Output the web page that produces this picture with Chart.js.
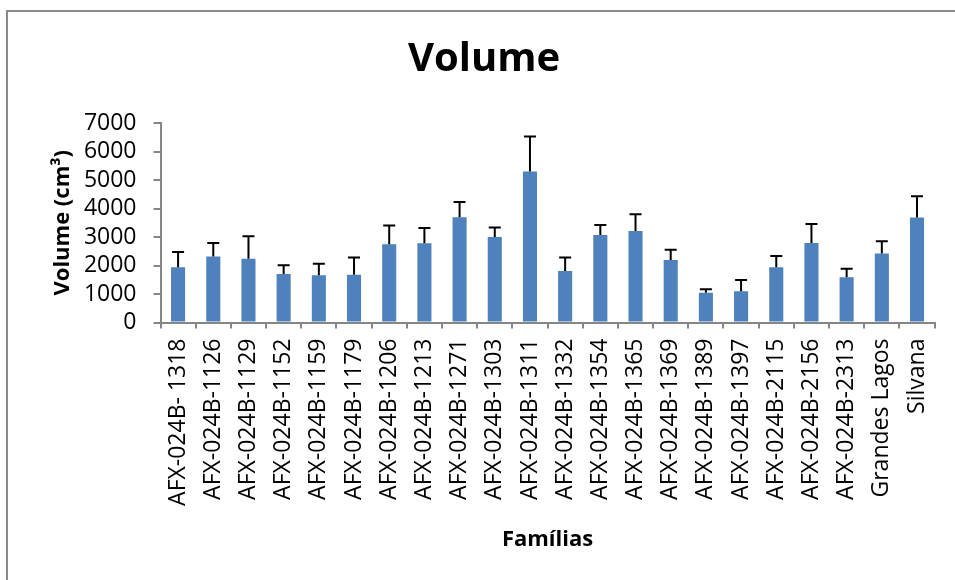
<!DOCTYPE html>
<html>
<head>
<meta charset="utf-8">
<title>Volume</title>
<script src="https://cdn.jsdelivr.net/npm/chart.js@4"></script>
<style>
  html, body { margin: 0; padding: 0; background: #fff; overflow: hidden; }
  #frame { position: absolute; left: 6px; top: 10px; width: 1200px; height: 900px; border: 2px solid #8a8a8a; }
  #wrap { position: absolute; left: 0; top: 0; width: 955px; height: 580px; }
</style>
</head>
<body>
<div id="frame"></div>
<div id="wrap"><canvas id="chart"></canvas></div>
<script>
// families on the x axis
const families = [
  'AFX-024B- 1318', 'AFX-024B-1126', 'AFX-024B-1129', 'AFX-024B-1152', 'AFX-024B-1159',
  'AFX-024B-1179', 'AFX-024B-1206', 'AFX-024B-1213', 'AFX-024B-1271', 'AFX-024B-1303',
  'AFX-024B-1311', 'AFX-024B-1332', 'AFX-024B-1354', 'AFX-024B-1365', 'AFX-024B-1369',
  'AFX-024B-1389', 'AFX-024B-1397', 'AFX-024B-2115', 'AFX-024B-2156', 'AFX-024B-2313',
  'Grandes Lagos', 'Silvana'
];

// mean volume (cm³)
const volume = [
  1935, 2320, 2240, 1700, 1655, 1675, 2745, 2780, 3695, 3000,
  5300, 1805, 3070, 3210, 2190, 1040, 1100, 1935, 2790, 1585,
  2425, 3680
];

// upper error (cm³)
const volumeErr = [
  540, 470, 790, 305, 410, 610, 655, 540, 530, 330,
  1230, 480, 350, 590, 365, 130, 390, 400, 670, 300,
  430, 750
];

const yTicks = [0, 1000, 2000, 3000, 4000, 5000, 6000, 7000];

const FONT = '"Open Sans", "Liberation Sans", sans-serif';
const AXIS_GREY = '#868686';

Chart.defaults.color = '#000';
Chart.defaults.font.family = FONT;

// only the upper whisker is drawn, like the source
const errorBars = {
  id: 'errorBars',
  afterDatasetsDraw(chart) {
    const { ctx } = chart;
    const yScale = chart.scales.y;
    const meta = chart.getDatasetMeta(0);
    ctx.save();
    ctx.strokeStyle = '#000';
    ctx.lineWidth = 2;
    meta.data.forEach((bar, i) => {
      const top = yScale.getPixelForValue(volume[i] + volumeErr[i]);
      ctx.beginPath();
      ctx.moveTo(bar.x, bar.y);
      ctx.lineTo(bar.x, top);
      ctx.moveTo(bar.x - 6, top);
      ctx.lineTo(bar.x + 6, top);
      ctx.stroke();
    });
    ctx.restore();
  }
};

new Chart(document.getElementById('chart'), {
  type: 'bar',
  data: {
    labels: families,
    datasets: [{
      label: 'Volume',
      data: volume,
      backgroundColor: '#4F81BD',
      barPercentage: 0.4,
      categoryPercentage: 1.0
    }]
  },
  plugins: [errorBars],
  options: {
    responsive: true,
    maintainAspectRatio: false,
    animation: false,
    layout: { padding: { left: 30, right: 17, top: 0, bottom: 0 } },
    plugins: {
      legend: { display: false },
      tooltip: { enabled: false },
      title: {
        display: true,
        text: 'Volume',
        color: '#000',
        font: { size: 40, weight: 'bold', family: FONT },
        padding: { top: 36, bottom: 39 }
      }
    },
    scales: {
      x: {
        grid: { drawOnChartArea: false, drawTicks: true, tickLength: 6, color: AXIS_GREY, lineWidth: 2 },
        border: { color: AXIS_GREY, width: 2 },
        ticks: {
          autoSkip: false, maxRotation: 90, minRotation: 90,
          padding: 10, color: '#000', font: { size: 23 }
        },
        title: {
          display: true, text: 'Famílias', color: '#000',
          font: { size: 22, weight: 'bold' },
          padding: { top: 0, bottom: 27 }
        },
        afterFit: (s) => { s.height = 257.5; }
      },
      y: {
        min: yTicks[0],
        max: yTicks[yTicks.length - 1],
        grid: { drawOnChartArea: false, drawTicks: true, tickLength: 7, color: AXIS_GREY, lineWidth: 2 },
        border: { color: AXIS_GREY, width: 2 },
        ticks: {
          stepSize: 1000, autoSkip: false,
          padding: 17, color: '#000', font: { size: 23 },
          callback: (v) => String(v)
        },
        title: {
          display: true, text: 'Volume (cm³)', color: '#000',
          font: { size: 22, weight: 'bold' },
          padding: { top: 20, bottom: 0 }
        },
        afterFit: (s) => { s.width = 130.5; }
      }
    }
  }
});
</script>
</body>
</html>
